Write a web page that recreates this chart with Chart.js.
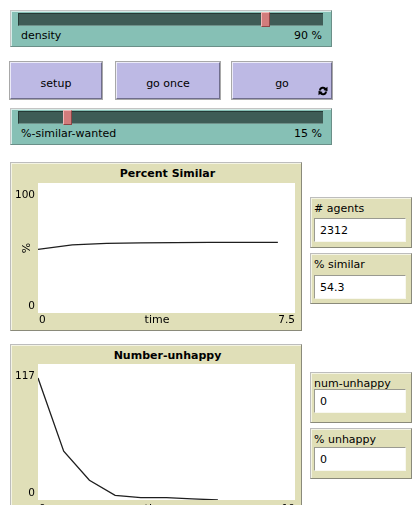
<!DOCTYPE html>
<html>
<head>
<meta charset="utf-8">
<script src="https://cdn.jsdelivr.net/npm/chart.js@4/dist/chart.umd.min.js"></script>
<style>
body { margin: 0; background: #fff; font-family: "DejaVu Sans", sans-serif; font-size: 11px; color: #000; }
.w { position: absolute; box-sizing: border-box; }
.slider { background: #86c0b5; border: 1px solid; border-color: #c4c4c4 #6a8f88 #6a8f88 #c4c4c4; box-shadow: inset 1px 1px 0 #d6ece8; }
.track { position: absolute; left: 7px; right: 8px; top: 2px; height: 13px; background: #3e5c56; border-top: 1px solid #263a36; border-left: 1px solid #263a36; border-bottom: 1px solid #6f918a; box-sizing: border-box; }
.thumb { position: absolute; top: 1px; width: 9px; height: 15px; background: #d27c7c; border: 1px solid #8c4646; border-left-color: #f2b8b8; border-top-color: #f2b8b8; box-sizing: border-box; }
.slbl { position: absolute; left: 10px; top: 18px; }
.sval { position: absolute; right: 9px; top: 18px; }
.button { background: #bdb9e4; border: 1px solid; border-color: #ecebf8 #6f6d8c #6f6d8c #ecebf8; outline: 1px solid #a8a8a8; text-align: center; line-height: 42px; }
.frame { background: #e0dfb8; border: 1px solid; border-color: #bdbdbd #8a8a7a #8a8a7a #bdbdbd; box-shadow: inset 1px 1px 0 #f4f4e4; }
.ptitle { position: absolute; left: 28px; width: 257px; text-align: center; font-weight: bold; top: 4px; }
.mlbl { position: absolute; left: 3px; top: 4px; }
.mval { position: absolute; left: 3px; right: 5px; background: #fff; border: 1px solid; border-color: #9a9a90 #f8f8f0 #f8f8f0 #9a9a90; height: 24px; line-height: 23px; padding-left: 5px; box-sizing: border-box; }
canvas { position: absolute; }
</style>
</head>
<body>

<div class="w slider" style="left:10px;top:10px;width:322px;height:37px">
  <div class="track"></div><div class="thumb" id="thumb-density"></div>
  <span class="slbl">density</span><span class="sval" id="val-density"></span>
</div>

<div class="w button" style="left:10px;top:62px;width:92px;height:37px">setup</div>
<div class="w button" style="left:116px;top:62px;width:104px;height:37px">go once</div>
<div class="w button" style="left:232px;top:62px;width:100px;height:37px">go
  <svg style="position:absolute;right:3px;bottom:2px" width="10" height="10" viewBox="0 0 10 10">
    <path d="M2 4.5 A3 3 0 0 1 7.6 3.2" stroke="#000" stroke-width="2" fill="none"/>
    <path d="M9.5 0.8 L9.5 5.2 L5.3 4 Z" fill="#000"/>
    <path d="M8 5.5 A3 3 0 0 1 2.4 6.8" stroke="#000" stroke-width="2" fill="none"/>
    <path d="M0.5 9.2 L0.5 4.8 L4.7 6 Z" fill="#000"/>
  </svg>
</div>

<div class="w slider" style="left:10px;top:108px;width:322px;height:37px">
  <div class="track"></div><div class="thumb" id="thumb-similar"></div>
  <span class="slbl">%-similar-wanted</span><span class="sval" id="val-similar"></span>
</div>

<div class="w frame" style="left:10px;top:162px;width:292px;height:169px">
  <div class="ptitle">Percent Similar</div>
</div>
<canvas id="percent-similar-chart" width="292" height="169" style="left:10px;top:162px"></canvas>

<div class="w frame" style="left:310px;top:197px;width:102px;height:51px">
  <span class="mlbl"># agents</span><div class="mval" style="top:20px" id="mon-agents"></div>
</div>
<div class="w frame" style="left:310px;top:253px;width:102px;height:51px">
  <span class="mlbl">% similar</span><div class="mval" style="top:21px" id="mon-similar"></div>
</div>

<div class="w frame" style="left:10px;top:344px;width:292px;height:180px">
  <div class="ptitle">Number-unhappy</div>
</div>
<canvas id="number-unhappy-chart" width="292" height="180" style="left:10px;top:344px"></canvas>

<div class="w frame" style="left:310px;top:372px;width:102px;height:51px">
  <span class="mlbl">num-unhappy</span><div class="mval" style="top:16px" id="mon-unhappy"></div>
</div>
<div class="w frame" style="left:310px;top:428px;width:102px;height:51px">
  <span class="mlbl">% unhappy</span><div class="mval" style="top:18px" id="mon-pct-unhappy"></div>
</div>

<script>
// slider settings
const densityValue = 90;
const densityRange = [50, 99];
const similarWantedValue = 15;
const similarWantedRange = [0, 100];

// monitors
const agentsCount = 2312;
const percentSimilarNow = 54.3;
const numUnhappyNow = 0;
const percentUnhappyNow = 0;

// plot: Percent Similar
const similarTicks = [0, 1, 2, 3, 4, 5, 6, 7];
const similarValues = [49, 52.4, 53.5, 54.0, 54.2, 54.3, 54.3, 54.3];
const similarXRange = [0, 7.5];
const similarYRange = [0, 100];

// plot: Number-unhappy
const unhappyTicks = [0, 1, 2, 3, 4, 5, 6, 7];
const unhappyValues = [105, 42, 17, 4, 2, 2, 1, 0];
const unhappyXRange = [0, 10];
const unhappyYRange = [0, 117];

//sliders
function placeThumb(id, value, range) {
    const thumb = document.getElementById(id);
    const trackWidth = 322 - 2 - 15 - 9;
    thumb.style.left = (8 + (value - range[0]) / (range[1] - range[0]) * trackWidth) + 'px';
}
placeThumb('thumb-density', densityValue, densityRange);
placeThumb('thumb-similar', similarWantedValue, similarWantedRange);
document.getElementById('val-density').textContent = densityValue + ' %';
document.getElementById('val-similar').textContent = similarWantedValue + ' %';

//monitors
document.getElementById('mon-agents').textContent = agentsCount;
document.getElementById('mon-similar').textContent = percentSimilarNow;
document.getElementById('mon-unhappy').textContent = numUnhappyNow;
document.getElementById('mon-pct-unhappy').textContent = percentUnhappyNow;

// NetLogo-style axes: white plot area, min/max labels at the corners, axis names
const netlogoAxes = {
    id: 'netlogoAxes',
    beforeDraw: function (chart) {
        const a = chart.chartArea;
        const ctx = chart.ctx;
        ctx.save();
        ctx.fillStyle = '#fff';
        ctx.fillRect(a.left, a.top, a.right - a.left, a.bottom - a.top);
        ctx.restore();
    },
    afterDraw: function (chart, args, opts) {
        const a = chart.chartArea;
        const ctx = chart.ctx;
        const xs = chart.scales.x;
        const ys = chart.scales.y;
        ctx.save();
        ctx.fillStyle = '#000';
        ctx.font = '10.5px "DejaVu Sans"';
        ctx.textBaseline = 'middle';

        ctx.textAlign = 'right';
        ctx.fillText(String(ys.max), a.left - 3, ys.getPixelForValue(ys.max) + 12.5);
        ctx.fillText(String(ys.min), a.left - 3, ys.getPixelForValue(ys.min) - 7);

        const xLabelY = a.bottom + opts.xLabelGap;
        ctx.textAlign = 'left';
        ctx.fillText(String(xs.min), xs.getPixelForValue(xs.min) + 1, xLabelY);
        ctx.textAlign = 'right';
        ctx.fillText(String(xs.max), xs.getPixelForValue(xs.max), xLabelY);

        ctx.font = '11px "DejaVu Sans"';
        if (opts.xTitle) {
            ctx.textAlign = 'center';
            ctx.fillText(opts.xTitle, chart.width / 2 + 1, xLabelY);
        }
        if (opts.yTitle) {
            ctx.translate(a.left - 11, (a.top + a.bottom) / 2);
            ctx.rotate(-Math.PI / 2);
            ctx.textAlign = 'center';
            ctx.fillText(opts.yTitle, 0, 0);
        }
        ctx.restore();
    }
};

function makePlot(canvasId, xValues, yValues, xRange, yRange, xTitle, yTitle, padding, xLabelGap) {
    let points = new Array();
    for (var i = 0; i < xValues.length; i++) {
        points.push({ x: xValues[i], y: yValues[i] });
    }
    return new Chart(document.getElementById(canvasId), {
        type: 'line',
        data: {
            datasets: [{
                data: points,
                borderColor: '#1e1e1e',
                borderWidth: 1.3,
                pointRadius: 0,
                tension: 0,
                fill: false
            }]
        },
        options: {
            responsive: false,
            animation: false,
            devicePixelRatio: 1,
            layout: { padding: padding },
            plugins: {
                legend: { display: false },
                tooltip: { enabled: false },
                netlogoAxes: { xTitle: xTitle, yTitle: yTitle, xLabelGap: xLabelGap }
            },
            scales: {
                x: { type: 'linear', min: xRange[0], max: xRange[1], display: false },
                y: { type: 'linear', min: yRange[0], max: yRange[1], display: false }
            }
        },
        plugins: [netlogoAxes]
    });
}

// -- percent similar --
makePlot('percent-similar-chart', similarTicks, similarValues, similarXRange, similarYRange,
    'time', '%', { left: 28, top: 21, right: 7, bottom: 18 }, 7.5);

// -- number unhappy --
makePlot('number-unhappy-chart', unhappyTicks, unhappyValues, unhappyXRange, unhappyYRange,
    'time', '', { left: 28, top: 20, right: 7, bottom: 24 }, 9.5);
</script>
</body>
</html>
